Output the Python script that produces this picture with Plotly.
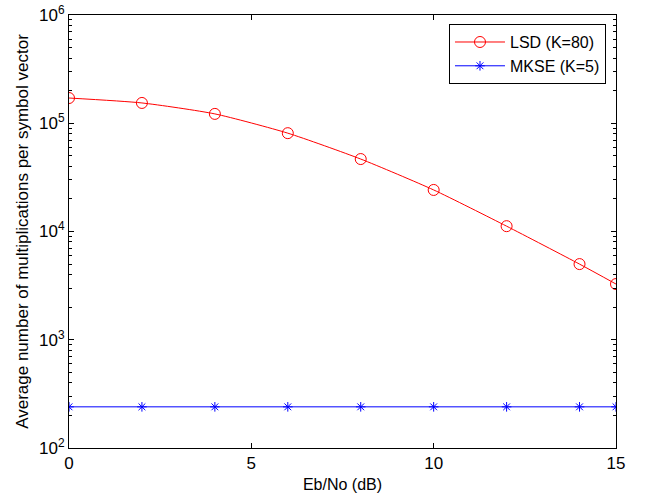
import plotly.graph_objects as go

x_vals = [0, 2, 4, 6, 8, 10, 12, 14, 15]
lsd_vals = [1.71e5, 1.54e5, 1.22e5, 8.1e4, 4.67e4, 2.42e4, 1.12e4, 5.0e3, 3.27e3]
mkse_vals = [240, 240, 240, 240, 240, 240, 240, 240, 240]
ytick_vals = [1e2, 1e3, 1e4, 1e5, 1e6]
ytick_text = ["10<sup>2</sup>", "10<sup>3</sup>", "10<sup>4</sup>", "10<sup>5</sup>", "10<sup>6</sup>"]
xtick_vals = [0, 5, 10, 15]
minor_vals = [m * 10**e for e in range(2, 6) for m in range(2, 10)]

FONT = "Liberation Sans, Arial, Helvetica, sans-serif"

fig = go.Figure()
fig.add_trace(go.Scatter(
    x=x_vals, y=lsd_vals, mode="lines+markers", name="LSD (K=80)",
    line=dict(color="#ff0000", width=1, shape="spline", smoothing=0.6),
    marker=dict(symbol="circle-open", size=11, color="#ff0000", line=dict(width=1)),
))
fig.add_trace(go.Scatter(
    x=x_vals, y=mkse_vals, mode="lines+markers", name="MKSE (K=5)",
    line=dict(color="#0000ff", width=1),
    marker=dict(symbol="asterisk-open", size=8, color="#0000ff", line=dict(width=1, color="#0000ff")),
))

axis_common = dict(
    showline=True, linecolor="black", linewidth=1, mirror="ticks",
    ticks="inside", ticklen=5, tickcolor="black", showgrid=False, zeroline=False,
    automargin=False,
    tickfont=dict(family=FONT, size=17, color="black"),
)

fig.update_layout(
    template="none",
    width=647, height=495,
    margin=dict(l=69, r=31, t=15, b=47, pad=0),
    paper_bgcolor="white", plot_bgcolor="white",
    font=dict(family=FONT, size=16, color="black"),
    xaxis=dict(range=[0, 15], tickvals=xtick_vals,
               title=dict(text="Eb/No (dB)", standoff=6, font=dict(size=16)),
               **axis_common),
    yaxis=dict(type="log", range=[2, 6], tickvals=ytick_vals, ticktext=ytick_text,
               minor=dict(ticks="inside", ticklen=3, tickcolor="black", tickvals=minor_vals),
               title=dict(text="Average number of multiplications per symbol vector", standoff=6, font=dict(size=17)),
               **axis_common),
    legend=dict(x=0.9817, y=0.979, xanchor="right", yanchor="top",
                bordercolor="black", borderwidth=1, bgcolor="white",
                font=dict(family=FONT, size=16), tracegroupgap=0, itemwidth=50),
    showlegend=True,
)

fig.write_html("out.html", config={"displayModeBar": False},
               post_script="document.body.style.margin='0';")
